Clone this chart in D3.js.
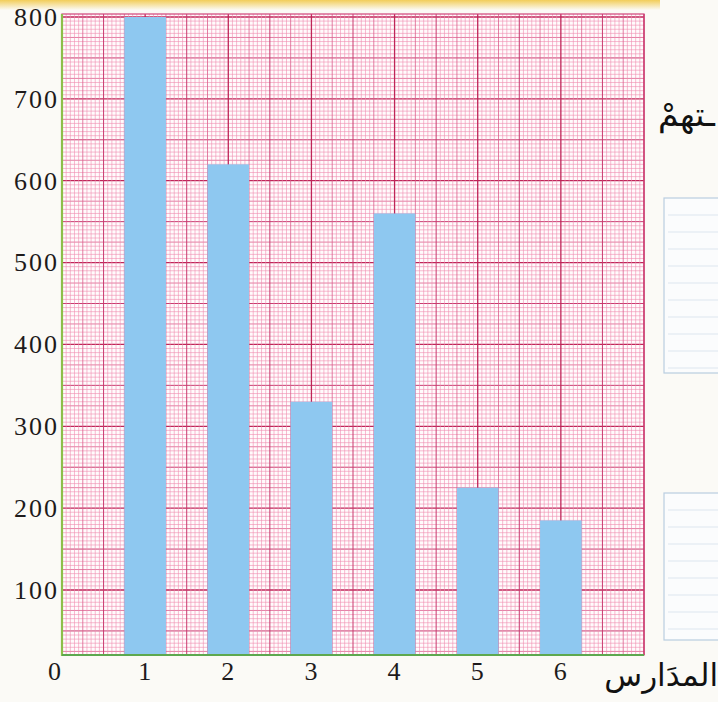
<!DOCTYPE html>
<html>
<head>
<meta charset="utf-8">
<script src="https://cdn.jsdelivr.net/npm/d3@7"></script>
<style>
  html, body { margin: 0; padding: 0; background: #fbfaf6; }
  svg { display: block; }
</style>
</head>
<body>
<div id="app"></div>
<script>
// data
const schools = [1, 2, 3, 4, 5, 6];
const students = [800, 620, 330, 560, 225, 185];
const yTicks = [100, 200, 300, 400, 500, 600, 700, 800];
const xTicks = [0, 1, 2, 3, 4, 5, 6];
const xTitle = "المدَارس";
const sideWord = "ـتهمْ";

const width = 718, height = 702;
const plotLeft = 62, plotRight = 644, plotTop = 14, plotBottom = 655;

const svg = d3.select("#app").append("svg")
  .attr("width", width)
  .attr("height", height);

// page background + yellow strip at the top of the scan
const defs = svg.append("defs");
const topGrad = defs.append("linearGradient").attr("id", "topband").attr("x1", 0).attr("x2", 0).attr("y1", 0).attr("y2", 1);
topGrad.append("stop").attr("offset", 0).attr("stop-color", "#f2cd5a");
topGrad.append("stop").attr("offset", 1).attr("stop-color", "#fbfaf6");
svg.append("rect").attr("width", width).attr("height", height).attr("fill", "#fbfaf6");
svg.append("rect").attr("x", 0).attr("y", 0).attr("width", 660).attr("height", 10).attr("fill", "url(#topband)");

// scales: x in school units, y piecewise because the bottom square of the paper is short
const x = d3.scaleLinear().domain([0, 7]).range([plotLeft, plotRight]);
const y = d3.scaleLinear().domain([0, 100, 800]).range([plotBottom, 590, 17]);
const paper = d3.scaleLinear().domain([100, 800]).range([590, 17]);

// graph paper
const grid = svg.append("g");
grid.append("rect")
  .attr("x", plotLeft).attr("y", plotTop)
  .attr("width", plotRight - plotLeft).attr("height", plotBottom - plotTop)
  .attr("fill", "#fffbfc");

function lineStyle(v, unit) {
  const k = Math.round(v / unit);
  if (k % 20 === 0) return ["#bf2558", 1.3];
  if (k % 10 === 0) return ["#c93a6f", 1.0];
  if (k % 5 === 0) return ["#dc5f8d", 0.8];
  return ["#f08db0", 0.6];
}

const hVals = d3.range(20, 805, 5).filter(v => paper(v) <= plotBottom && paper(v) >= plotTop);
grid.selectAll("line.h").data(hVals).enter().append("line")
  .attr("class", "h")
  .attr("x1", plotLeft).attr("x2", plotRight)
  .attr("y1", d => paper(d)).attr("y2", d => paper(d))
  .attr("stroke", d => lineStyle(d, 5)[0])
  .attr("stroke-width", d => lineStyle(d, 5)[1]);

const vVals = d3.range(0, 7.001, 0.05).filter(v => x(v) <= plotRight);
grid.selectAll("line.v").data(vVals).enter().append("line")
  .attr("class", "v")
  .attr("y1", plotTop).attr("y2", plotBottom)
  .attr("x1", d => x(d)).attr("x2", d => x(d))
  .attr("stroke", d => lineStyle(d, 0.05)[0])
  .attr("stroke-width", d => lineStyle(d, 0.05)[1]);

grid.append("rect")
  .attr("x", plotLeft).attr("y", plotTop)
  .attr("width", plotRight - plotLeft).attr("height", plotBottom - plotTop)
  .attr("fill", "none").attr("stroke", "#d0447a").attr("stroke-width", 1.2);

// bars
const barW = x(0.25) - x(-0.25);
svg.append("g").selectAll("rect").data(schools).enter().append("rect")
  .attr("x", d => x(d) - barW / 2)
  .attr("y", (d, i) => y(students[i]))
  .attr("width", barW)
  .attr("height", (d, i) => y(0) - y(students[i]))
  .attr("fill", "#8ec8f0");

// axis lines
svg.append("line").attr("x1", plotLeft).attr("x2", plotLeft).attr("y1", plotTop).attr("y2", plotBottom + 1)
  .attr("stroke", "#8cbf4a").attr("stroke-width", 2.2);
svg.append("line").attr("x1", plotLeft).attr("x2", plotRight).attr("y1", plotBottom).attr("y2", plotBottom)
  .attr("stroke", "#5da84f").attr("stroke-width", 2.2);

// tick labels
const yAxis = svg.append("g")
  .attr("transform", `translate(${plotLeft},0)`)
  .call(d3.axisLeft(y).tickValues(yTicks).tickSize(0).tickPadding(3).tickFormat(d3.format("d")));
const xAxis = svg.append("g")
  .attr("transform", `translate(0,${plotBottom})`)
  .call(d3.axisBottom(x).tickValues(xTicks).tickSize(0).tickPadding(7).tickFormat(d3.format("d")));

[yAxis, xAxis].forEach(a => {
  a.select(".domain").remove();
  a.selectAll("text")
    .attr("fill", "#1e1a1b")
    .style("font-family", "'Liberation Serif', 'DejaVu Serif', serif")
    .style("font-size", "26px")
    .style("letter-spacing", "2px");
});
xAxis.selectAll(".tick").filter(d => d === 0).select("text").attr("x", -7);

// axis title (Arabic)
svg.append("text")
  .attr("x", 718).attr("y", 686)
  .attr("text-anchor", "end")
  .attr("fill", "#111")
  .style("font-family", "'DejaVu Sans', sans-serif")
  .style("font-size", "31px")
  .text(xTitle);

// right margin of the page: cut-off word and answer boxes
svg.append("text")
  .attr("x", 658).attr("y", 126)
  .attr("fill", "#111")
  .style("font-family", "'DejaVu Sans', sans-serif")
  .style("font-size", "33px")
  .text(sideWord);

const boxes = [[198, 373], [493, 640]];
boxes.forEach(([y0, y1]) => {
  svg.append("rect")
    .attr("x", 664).attr("y", y0).attr("width", 70).attr("height", y1 - y0)
    .attr("fill", "#fbfcfd").attr("stroke", "#b9cde0").attr("stroke-width", 1.2);
  svg.append("g").selectAll("line").data(d3.range(y0 + 17, y1 - 4, 17)).enter().append("line")
    .attr("x1", 668).attr("x2", 718)
    .attr("y1", d => d).attr("y2", d => d)
    .attr("stroke", "#dde6ef").attr("stroke-width", 1);
});
</script>
</body>
</html>
